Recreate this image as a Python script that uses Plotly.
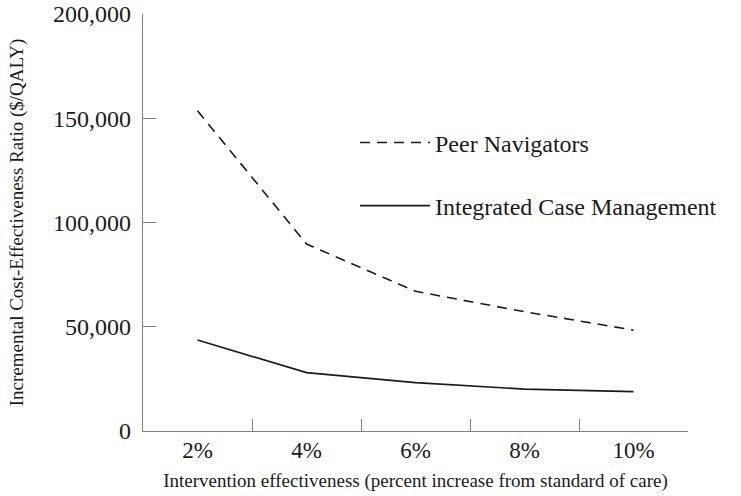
import plotly.graph_objects as go

categories = ["2%", "4%", "6%", "8%", "10%"]
peer_navigators = [153600, 89700, 67000, 57200, 48400]
integrated_case_mgmt = [43600, 28000, 23200, 20100, 18900]
y_ticks = [0, 50000, 100000, 150000, 200000]

FONT = "Liberation Serif"
INK = "#1a1a1a"

fig = go.Figure()
fig.add_trace(go.Scatter(
    x=categories, y=peer_navigators, mode="lines", name="Peer Navigators",
    legendgroup="a",
    line=dict(color=INK, width=1.6, dash="10px,7px"),
))
fig.add_trace(go.Scatter(
    x=categories, y=integrated_case_mgmt, mode="lines", name="Integrated Case Management",
    legendgroup="b",
    line=dict(color=INK, width=1.6),
))

fig.update_layout(
    width=741, height=496,
    margin=dict(l=143, r=53, t=14, b=65),
    paper_bgcolor="white", plot_bgcolor="white",
    font=dict(family=FONT, color=INK),
    legend=dict(
        x=0.389, y=0.745, xanchor="left", yanchor="top",
        font=dict(family=FONT, size=24, color=INK),
        bgcolor="rgba(0,0,0,0)", tracegroupgap=29, itemwidth=70,
    ),
    showlegend=True,
)
fig.update_xaxes(
    type="category", showgrid=False, zeroline=False, automargin=False,
    showline=True, linecolor="#808080", linewidth=1.2,
    ticks="inside", tickson="boundaries", ticklen=12, tickcolor="#808080",
    tickfont=dict(family=FONT, size=23, color=INK), ticklabelstandoff=-2,
    title=dict(text="Intervention effectiveness (percent increase from standard of care)",
               font=dict(family=FONT, size=19, color=INK), standoff=11),
    range=[-0.5, 4.5],
)
fig.update_yaxes(
    range=[0, 200000], tickvals=y_ticks, tickformat=",d",
    showgrid=False, zeroline=False, automargin=False,
    showline=True, linecolor="#808080", linewidth=1.2,
    ticks="inside", ticklen=13, tickcolor="#808080",
    tickfont=dict(family=FONT, size=24, color=INK), ticklabelstandoff=6,
    ticklabeloverflow="allow",
    title=dict(text="Incremental Cost-Effectiveness Ratio ($/QALY)",
               font=dict(family=FONT, size=19, color=INK), standoff=24),
)

fig.write_html("out.html", config={"displayModeBar": False},
               post_script="document.body.style.margin='0px';")
